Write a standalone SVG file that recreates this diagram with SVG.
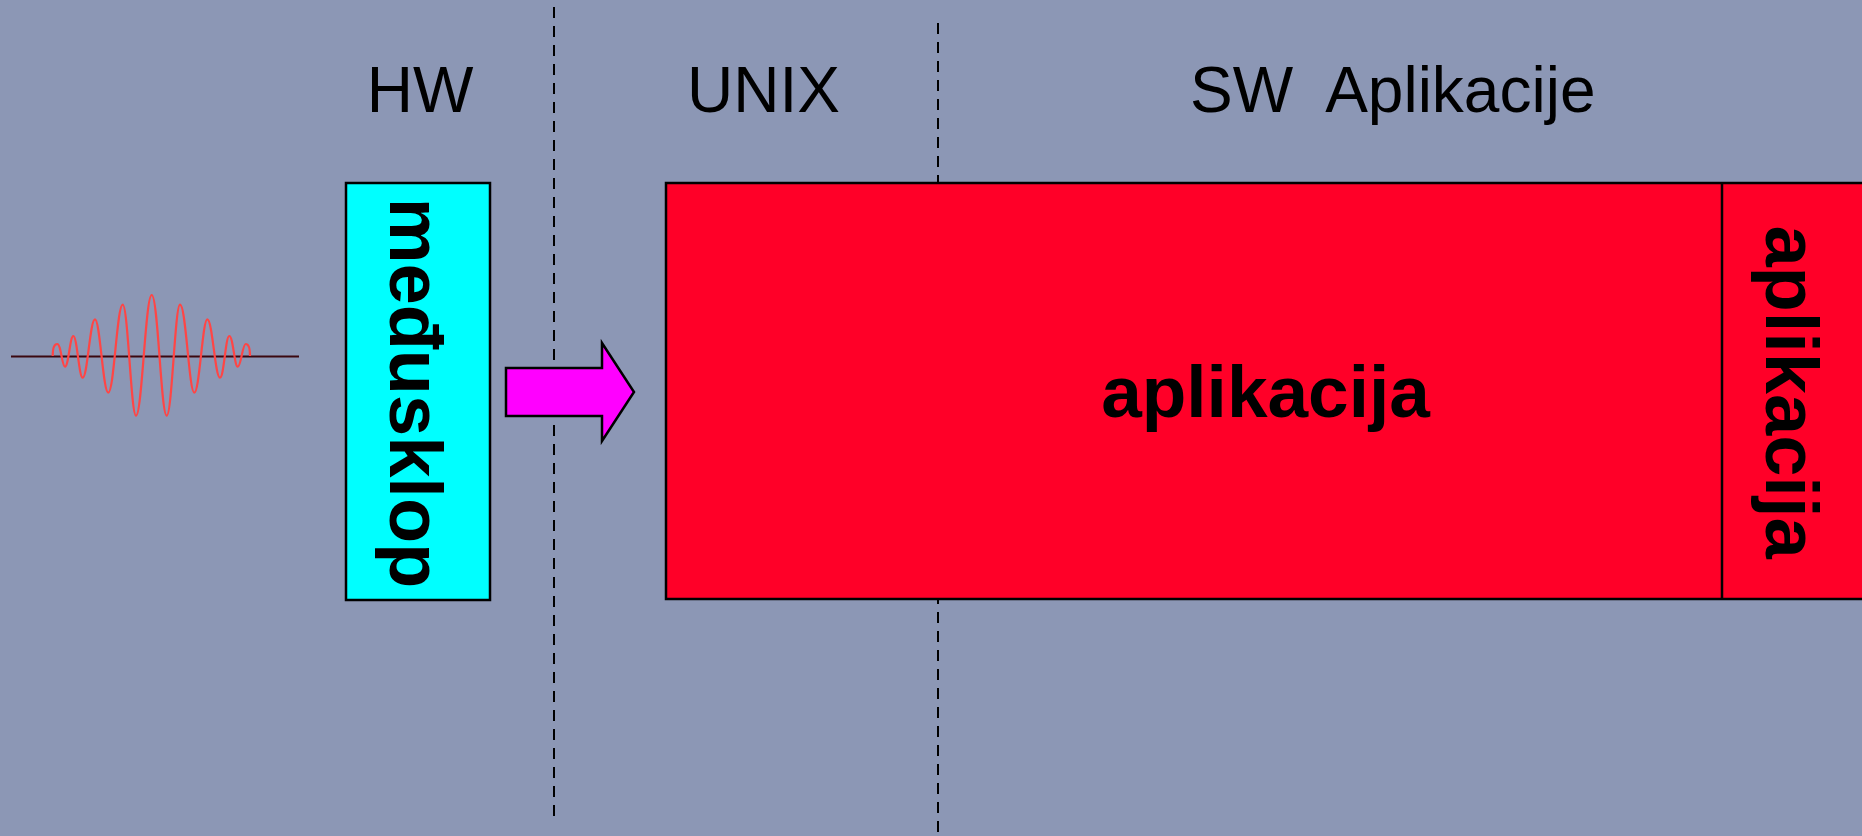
<svg xmlns="http://www.w3.org/2000/svg" width="1862" height="836" viewBox="0 0 1862 836">
  <style>
    .lbl { font-family: "Liberation Sans", Arial, sans-serif; font-size: 64px; fill: #000; }
    .big { font-family: "Liberation Sans", Arial, sans-serif; font-weight: bold; fill: #000; }
    .sep { stroke: #000; stroke-width: 2; stroke-dasharray: 11 8; fill: none; }
    .box { stroke: #000; stroke-width: 2.5; }
  </style>
  <rect x="0" y="0" width="1862" height="836" fill="#8c97b5"/>

  <g id="separators">
    <line class="sep" x1="554" y1="7" x2="554" y2="821"/>
    <line class="sep" x1="938" y1="23" x2="938" y2="836"/>
  </g>

  <g id="labels">
    <text class="lbl" x="420" y="111.5" text-anchor="middle">HW</text>
    <text class="lbl" x="763.5" y="111.5" text-anchor="middle">UNIX</text>
    <text class="lbl" x="1190" y="111.5" xml:space="preserve" style="white-space:pre">SW  Aplikacije</text>
  </g>

  <g id="signal">
    <line x1="11" y1="356.5" x2="299" y2="356.5" stroke="#3a0810" stroke-width="2.2"/>
    <path fill="none" stroke="#ff4545" stroke-width="2.2" d="M52.7,356 C52.7,348 54,344 57.3,344 C61,344 62,366.7 65,366.7 C68.5,366.7 70,336 73.3,336 C77,336 79,377.7 82.7,377.7 C87.5,377.7 90,319.3 95,319.3 C100,319.3 103,392.7 108.3,392.7 C114,392.7 117,304.7 122.7,304.7 C128,304.7 131,415.7 136,415.7 C142,415.7 145.5,295 151.7,295 C158,295 161,415.7 166.7,415.7 C172,415.7 175,304.7 180,304.7 C186,304.7 189,392.7 194.3,392.7 C199.5,392.7 202.5,319.3 207.3,319.3 C212.5,319.3 215,377.7 220,377.7 C224,377.7 225.5,336 229.3,336 C233,336 234.5,366.7 237.7,366.7 C241,366.7 242.5,344 245.7,344 C249,344 250,350 250,356"/>
  </g>

  <g id="meduskop">
    <rect class="box" x="346" y="183" width="144" height="417" fill="#00ffff"/>
    <text class="big" font-size="74" text-anchor="middle" transform="translate(390,393) rotate(90)">međusklop</text>
  </g>

  <g id="aplikacija-main">
    <rect class="box" x="666" y="183" width="1210" height="416" fill="#ff0028"/>
    <text class="big" font-size="73" text-anchor="middle" x="1265.5" y="417">aplikacija</text>
  </g>

  <g id="aplikacija-side">
    <line x1="1722" y1="183" x2="1722" y2="599" stroke="#000" stroke-width="2.5"/>
    <text class="big" font-size="74" text-anchor="middle" transform="translate(1766,392) rotate(90)">aplikacija</text>
  </g>

  <g id="connectors">
    <polygon points="506,368 602,368 602,343 634,392 602,441 602,416 506,416" fill="#ff00ff" stroke="#000" stroke-width="2.5" stroke-linejoin="miter"/>
  </g>
</svg>
